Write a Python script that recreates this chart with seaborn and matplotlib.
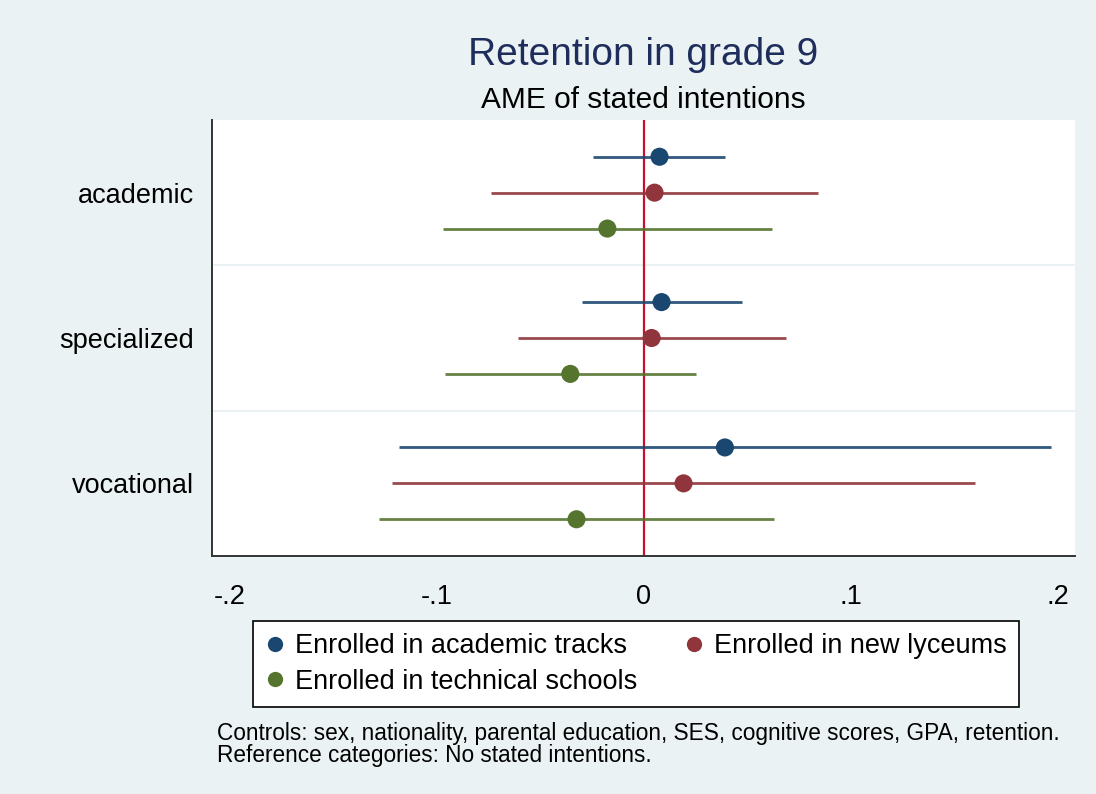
import matplotlib
matplotlib.use("Agg")
import matplotlib.pyplot as plt
from matplotlib.lines import Line2D
import seaborn as sns
import pandas as pd
import numpy as np


# -------------------- Data --------------------

groups = ["academic", "specialized", "vocational"]
series = ["Enrolled in academic tracks", "Enrolled in new lyceums",
          "Enrolled in technical schools"]
colors = ["#1a476f", "#90353b", "#55752f"]

# AME point estimates, rows = groups, cols = series
ame = [
    [0.0077, 0.0053, -0.0175],
    [0.0087, 0.0039, -0.0354],
    [0.0393, 0.0193, -0.0324],
]
ci_low = [
    [-0.0244, -0.0739, -0.0970],
    [-0.0299, -0.0608, -0.0958],
    [-0.1182, -0.1214, -0.1279],
]
ci_high = [
    [0.0395, 0.0843, 0.0622],
    [0.0475, 0.0687, 0.0251],
    [0.1967, 0.1601, 0.0630],
]

xticks = [-0.2, -0.1, 0, 0.1, 0.2]
xticklabels = ["-.2", "-.1", "0", ".1", ".2"]

# -------------------- Build frame --------------------

offsets = [-0.247, 0.0, 0.247]
rows = []
for g, grp in enumerate(groups):
    for s, ser in enumerate(series):
        rows.append({
            "group": grp,
            "series": ser,
            "ypos": g + offsets[s],
            "ame": ame[g][s],
            "lo": ci_low[g][s],
            "hi": ci_high[g][s],
        })
df = pd.DataFrame(rows)

# -------------------- Plot --------------------

sns.set_theme(style="white")
plt.rcParams["font.family"] = ["Liberation Sans", "DejaVu Sans"]

bg = "#eaf2f3"
fig = plt.figure(figsize=(10.96, 7.94), dpi=100)
fig.patch.set_facecolor(bg)
ax = fig.add_axes([0.1934, 0.2997, 0.7876, 0.5492])
ax.set_facecolor("white")

# group separators
for sep in [0.5, 1.5]:
    ax.axhline(sep, color=bg, lw=1.5, zorder=0)

# zero reference line
ax.axvline(0, color="#c8102e", lw=1.6, zorder=1)

# confidence intervals
for s, ser in enumerate(series):
    sub = df[df["series"] == ser]
    ax.hlines(sub["ypos"], sub["lo"], sub["hi"], color=colors[s], lw=2.0,
              alpha=0.9, zorder=2)

# point estimates
sns.scatterplot(data=df, x="ame", y="ypos", hue="series", hue_order=series,
                palette=colors, s=170, edgecolor="none", legend=False,
                zorder=3, ax=ax)

ax.set_xlim(-0.2085, 0.2085)
ax.set_ylim(2.5, -0.5)
ax.set_xticks(xticks)
ax.set_xticklabels(xticklabels)
ax.set_yticks(range(len(groups)))
ax.set_yticklabels(groups)
ax.set_xlabel("")
ax.set_ylabel("")

for side in ["top", "right"]:
    ax.spines[side].set_visible(False)
for side in ["left", "bottom"]:
    ax.spines[side].set_color("#333333")
    ax.spines[side].set_linewidth(1.4)
ax.tick_params(axis="both", which="major", direction="out", length=8,
               width=1.4, color="#333333", labelsize=19.5,
               labelcolor="black")
ax.tick_params(axis="x", pad=12)
ax.tick_params(axis="y", pad=5)

# titles
fig.text(0.587, 0.931, "Retention in grade 9", ha="center", va="center",
         fontsize=28, color="#1e2d5c")
fig.text(0.587, 0.874, "AME of stated intentions", ha="center", va="center",
         fontsize=21.5, color="black")

# legend (column-major fill, so reorder to get row order of the reference)
order = [0, 2, 1]
handles = [Line2D([0], [0], marker="o", color="none", markerfacecolor=colors[i],
                  markeredgecolor="none", markersize=11) for i in order]
labels = [series[i] for i in order]
leg = fig.legend(handles, labels, ncol=2, loc="center left",
                 bbox_to_anchor=(0.2308, 0.1637), frameon=True, fontsize=19.5,
                 handletextpad=0.4, columnspacing=1.75, handlelength=0.7,
                 borderpad=0.45, labelspacing=0.35, fancybox=False,
                 framealpha=1, labelcolor="black", borderaxespad=0)
leg.get_frame().set_edgecolor("black")
leg.get_frame().set_linewidth(1.2)
leg.get_frame().set_facecolor("white")

# notes
fig.text(0.198, 0.0624,
         "Controls: sex, nationality, parental education, SES, cognitive scores, GPA, retention.\n"
         "Reference categories: No stated intentions.",
         ha="left", va="center", fontsize=16.3, linespacing=0.95, color="black")

fig.savefig("out.png", dpi=100, facecolor=bg)
